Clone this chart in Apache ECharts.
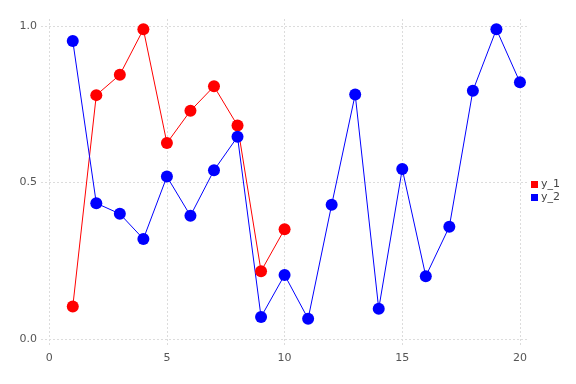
<!DOCTYPE html>
<html><head><meta charset="utf-8">
<script src="https://cdn.jsdelivr.net/npm/echarts@6/dist/echarts.min.js"></script>
<style>html,body{margin:0;padding:0;background:#fff}#c{width:576px;height:384px}</style>
</head><body><div id="c"></div>
<script>
const xs1 = [1,2,3,4,5,6,7,8,9,10];
const y1 = [0.104,0.779,0.844,0.989,0.626,0.729,0.807,0.682,0.217,0.351];
const xs2 = [1,2,3,4,5,6,7,8,9,10,11,12,13,14,15,16,17,18,19,20];
const y2 = [0.952,0.434,0.400,0.320,0.519,0.394,0.539,0.646,0.071,0.205,0.065,0.429,0.781,0.097,0.543,0.201,0.359,0.793,0.989,0.820];
const xTicks = [0,5,10,15,20];
const yTicks = [0,0.5,1.0];
const seriesNames = ['y_1','y_2'];

const chart = echarts.init(document.getElementById('c'), null, {renderer:'canvas'});
const gridLine = {show:true, lineStyle:{color:'#dcdcdc', type:[2,2], width:1}};
chart.setOption({
  animation:false,
  textStyle:{fontFamily:'DejaVu Sans'},
  grid:{left:41, right:49, top:19, bottom:37, containLabel:false},
  legend:{
    orient:'vertical', right:11, top:173, itemWidth:7, itemHeight:7, itemGap:0,
    icon:'rect', textStyle:{fontSize:11, lineHeight:13, color:'#444', padding:[0,0,0,-2]},
    data:seriesNames
  },
  xAxis:{
    type:'value', min:-0.35, max:20.3,
    axisLine:{show:false}, axisTick:{show:false, customValues:xTicks},
    axisLabel:{customValues:xTicks, color:'#555', fontSize:11, margin:6, formatter:v=>String(Math.round(v))},
    splitLine:gridLine
  },
  yAxis:{
    type:'value', min:-0.025, max:1.022,
    axisLine:{show:false}, axisTick:{show:false, customValues:yTicks},
    axisLabel:{customValues:yTicks, color:'#555', fontSize:11, margin:4, formatter:v=>v.toFixed(1)},
    splitLine:gridLine
  },
  series:[
    {name:'y_1', type:'line', data:xs1.map((x,i)=>[x,y1[i]]), color:'#ff0000',
     symbol:'circle', symbolSize:12, lineStyle:{width:1, color:'#ff0000'}, itemStyle:{color:'#ff0000'}},
    {name:'y_2', type:'line', data:xs2.map((x,i)=>[x,y2[i]]), color:'#0000ff',
     symbol:'circle', symbolSize:12, lineStyle:{width:1, color:'#0000ff'}, itemStyle:{color:'#0000ff'}}
  ]
});
</script></body></html>
